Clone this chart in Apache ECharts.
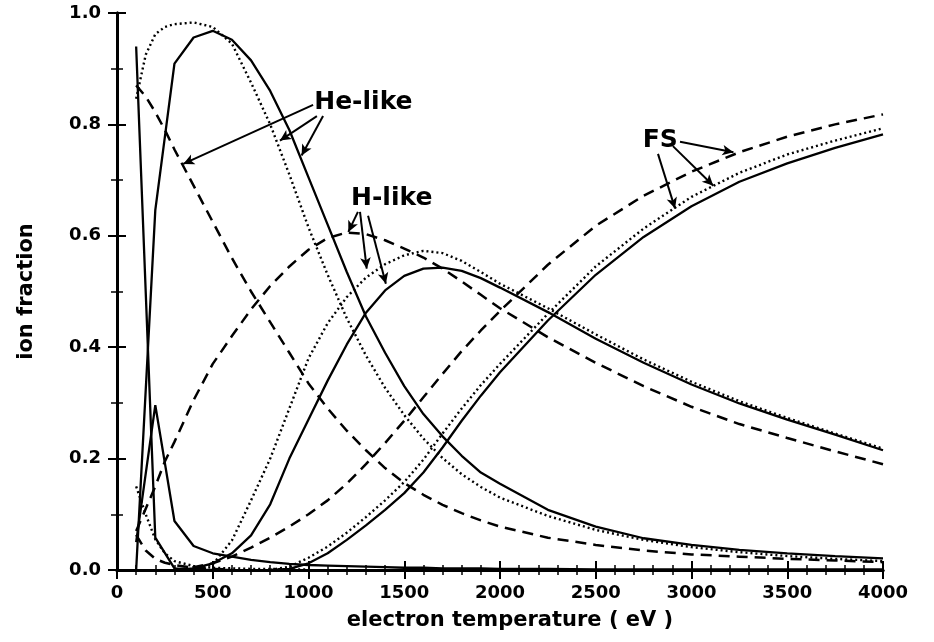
<!DOCTYPE html>
<html><head><meta charset="utf-8">
<script src="https://cdn.jsdelivr.net/npm/echarts@6/dist/echarts.min.js"></script>
<style>html,body{margin:0;padding:0;background:#fff}#c{width:934px;height:642px}</style>
</head><body><div id="c"></div>
<script>
// electron temperature grid (eV)
const T = [100,150,200,250,300,400,500,600,700,800,900,1000,1100,1200,1300,1400,1500,1600,1700,1800,1900,2000,2250,2500,2750,3000,3250,3500,3750,4000];
const _ = null;
// solid curves
const beSolid = [0.94,_,0.058,_,0.003,0,0,0,_,_,_,_,_,_,_,_,_,_,_,_,_,_,_,_,_,_,_,_,_,_];
const liSolid = [0.05,_,0.296,_,0.088,0.043,0.03,0.024,0.018,0.014,0.011,0.009,0.008,0.007,0.006,0.005,0.004,0.004,0.003,0.003,0.003,0.002,0.002,0.001,0.001,0.001,0.001,0.001,0.001,0.001];
const heSolid = [0,_,0.646,_,0.909,0.956,0.968,0.952,0.915,0.86,0.79,0.705,0.62,0.535,0.455,0.39,0.33,0.28,0.24,0.205,0.175,0.155,0.108,0.078,0.057,0.045,0.036,0.03,0.025,0.021];
const hSolid  = [_,_,_,_,0,0.003,0.012,0.03,0.062,0.118,0.2,0.27,0.34,0.405,0.462,0.502,0.528,0.541,0.543,0.537,0.524,0.507,0.463,0.415,0.372,0.333,0.299,0.27,0.243,0.215];
const fsSolid = [_,_,_,_,_,_,_,_,_,0,0.002,0.012,0.03,0.054,0.08,0.108,0.138,0.175,0.22,0.268,0.313,0.355,0.448,0.53,0.598,0.653,0.697,0.73,0.758,0.782];
// dotted curves
const liDot = [0.15,0.1,0.055,0.03,0.016,0.007,0.004,0.003,0.002,0.002,0.001,0.001,_,_,_,_,_,_,_,_,_,_,_,_,_,_,_,_,_,_];
const heDot = [0.846,0.925,0.962,0.975,0.98,0.983,0.975,0.945,0.875,0.8,0.71,0.615,0.53,0.452,0.385,0.327,0.278,0.236,0.201,0.172,0.149,0.13,0.097,0.072,0.054,0.041,0.032,0.025,0.02,0.016];
const hDot  = [_,_,_,_,_,0.002,0.01,0.053,0.125,0.2,0.29,0.38,0.443,0.49,0.525,0.549,0.565,0.573,0.569,0.555,0.535,0.514,0.47,0.423,0.378,0.338,0.303,0.273,0.245,0.218];
const fsDot = [_,_,_,_,_,_,_,_,_,0,0.006,0.022,0.042,0.067,0.095,0.125,0.158,0.198,0.245,0.29,0.332,0.37,0.46,0.545,0.613,0.67,0.713,0.746,0.771,0.793];
// dashed curves
const liDash = [0.063,0.035,0.02,0.013,0.009,0.004,0.002,0.001,_,_,_,_,_,_,_,_,_,_,_,_,_,_,_,_,_,_,_,_,_,_];
const heDash = [0.87,0.85,0.822,0.79,0.755,0.69,0.625,0.56,0.5,0.445,0.39,0.335,0.29,0.25,0.215,0.183,0.156,0.135,0.117,0.102,0.089,0.078,0.058,0.045,0.035,0.028,0.024,0.02,0.017,0.014];
const hDash  = [0.07,0.11,0.15,0.195,0.23,0.305,0.37,0.42,0.468,0.51,0.545,0.575,0.596,0.606,0.603,0.592,0.577,0.561,0.541,0.518,0.494,0.47,0.418,0.372,0.33,0.293,0.262,0.237,0.213,0.19];
const fsDash = [_,_,_,_,0,0.005,0.012,0.024,0.04,0.058,0.078,0.1,0.125,0.155,0.19,0.228,0.268,0.31,0.352,0.393,0.43,0.465,0.548,0.618,0.672,0.715,0.75,0.778,0.8,0.818];
// tick labels
const xTicks = ['0','500','1000','1500','2000','2500','3000','3500','4000'];
const yTicks = ['0.0','0.2','0.4','0.6','0.8','1.0'];
// annotations: [text, x, y]
const labels = [['He-like',1030,0.84],['H-like',1222,0.667],['FS',2745,0.771]];
// arrows: [from, to]
const arrows = [
  [[1024,0.835],[346,0.729]],[[1044,0.815],[851,0.771]],[[1076,0.815],[964,0.744]],
  [[1258,0.643],[1208,0.607]],[[1269,0.643],[1304,0.541]],[[1311,0.636],[1404,0.514]],
  [[2940,0.769],[3219,0.75]],[[2903,0.761],[3114,0.69]],[[2825,0.747],[2914,0.649]]
];

const FONT = 'DejaVu Sans';
function pairs(v){ return T.map((t,i)=> v[i]==null ? null : [t, v[i]]).filter(p=>p); }
const styles = {
  solid: {color:'#000', width:2.3, type:'solid'},
  dot:   {color:'#000', width:2.4, type:[2,3]},
  dash:  {color:'#000', width:2.5, type:[11,7]}
};
function mk(name, v, st){
  return {name, type:'line', data: pairs(v), symbol:'none', smooth:false,
    lineStyle: styles[st], silent:true, animation:false, z:2};
}
const series = [
  mk('beSolid', beSolid, 'solid'),
  mk('liSolid', liSolid, 'solid'),
  mk('heSolid', heSolid, 'solid'),
  mk('hSolid', hSolid, 'solid'),
  mk('fsSolid', fsSolid, 'solid'),
  mk('liDot', liDot, 'dot'),
  mk('heDot', heDot, 'dot'),
  mk('hDot', hDot, 'dot'),
  mk('fsDot', fsDot, 'dot'),
  mk('liDash', liDash, 'dash'),
  mk('heDash', heDash, 'dash'),
  mk('hDash', hDash, 'dash'),
  mk('fsDash', fsDash, 'dash'),
  {type:'scatter', symbolSize:0, itemStyle:{color:'#000', opacity:1}, silent:true, animation:false, z:5,
   data: labels.map(l=>({name:l[0], value:[l[1],l[2]]})),
   label:{show:true, position:'right', distance:0, formatter:'{b}', color:'#000', opacity:1,
     textBorderWidth:0, fontFamily:FONT, fontSize:25, fontWeight:'bold'},
   markLine:{silent:true, animation:false, symbol:['none','arrow'], symbolSize:[8,11],
     lineStyle:{color:'#000', width:2, type:'solid', opacity:1}, label:{show:false},
     data: arrows.map(a=>[{coord:a[0]},{coord:a[1]}])}
  }
];
const axisLine = {show:true, lineStyle:{color:'#000', width:3}};
const tick = {show:true, inside:true, length:9, lineStyle:{color:'#000', width:2}};
const lab = {color:'#000', fontFamily:FONT, fontSize:18, fontWeight:'bold'};
const chart = echarts.init(document.getElementById('c'), null, {renderer:'canvas'});
chart.setOption({
  animation:false,
  backgroundColor:'#fff',
  grid:{left:117, right:51, top:13, bottom:72},
  xAxis:[
    {type:'value', min:0, max:4000, interval:500, position:'bottom',
     axisLine, axisTick:tick, minorTick:{show:true, splitNumber:5, length:5, lineStyle:{color:'#000', width:1.5}},
     splitLine:{show:false}, minorSplitLine:{show:false},
     axisLabel:Object.assign({margin:14, formatter:(v)=>xTicks[Math.round(v/500)]}, lab),
     name:'electron temperature ( eV )', nameLocation:'middle', nameGap:40,
     nameTextStyle:{color:'#000', fontFamily:FONT, fontSize:21, fontWeight:'bold', padding:[0,0,0,20]}},
    {type:'value', min:0, max:4000, interval:500, position:'top',
     axisLine, axisTick:tick, minorTick:{show:true, splitNumber:5, length:5, lineStyle:{color:'#000', width:1.5}},
     splitLine:{show:false}, axisLabel:{show:false}}
  ],
  yAxis:[
    {type:'value', min:0, max:1, interval:0.2, position:'left',
     axisLine, axisTick:tick, minorTick:{show:true, splitNumber:2, length:6, lineStyle:{color:'#000', width:1.5}},
     splitLine:{show:false},
     axisLabel:Object.assign({margin:16, formatter:(v)=>yTicks[Math.round(v/0.2)]}, lab),
     name:'ion fraction', nameLocation:'middle', nameGap:80,
     nameTextStyle:{color:'#000', fontFamily:FONT, fontSize:21, fontWeight:'bold'}},
    {type:'value', min:0, max:1, interval:0.2, position:'right',
     axisLine, axisTick:tick, minorTick:{show:true, splitNumber:2, length:6, lineStyle:{color:'#000', width:1.5}},
     splitLine:{show:false}, axisLabel:{show:false}}
  ],
  series
});
</script></body></html>
